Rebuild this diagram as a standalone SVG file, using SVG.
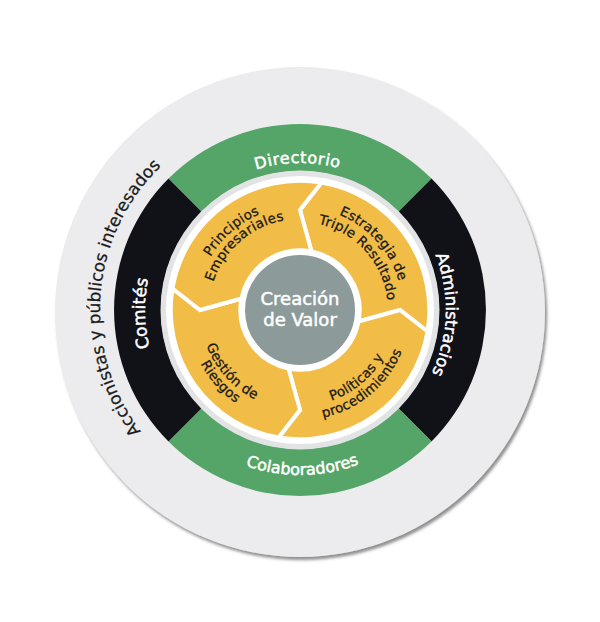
<svg xmlns="http://www.w3.org/2000/svg" width="600" height="622" viewBox="0 0 600 622">
<style>
.t{font-family:"DejaVu Sans","Liberation Sans",sans-serif}
.w{fill:#ffffff;stroke:#ffffff;stroke-width:0.5}
.k{fill:#1a1a1a;stroke:#1a1a1a;stroke-width:0.25}
.seg{fill:#f2bd46;stroke:#ffffff;stroke-width:4;stroke-linejoin:miter}
.grn{fill:#54a567}
.blk{fill:#111118}
.lbl{font-size:13.5px;fill:#1a1a1a;stroke:#1a1a1a;stroke-width:0.3;letter-spacing:0.2px}
</style>
<defs>
<filter id="sh" x="-10%" y="-10%" width="120%" height="120%">
<feDropShadow dx="2" dy="3" stdDeviation="1.5" flood-color="#444" flood-opacity="0.6"/>
</filter>
<path id="pAcc" d="M 300 510 A 200 200 0 0 1 300 110"/>
<path id="pDir" d="M 153 310 A 147 147 0 0 1 447 310"/>
<path id="pCol" d="M 135 310 A 165 165 0 0 0 465 310"/>
<path id="pCom" d="M 300 465 A 155 155 0 0 1 300 155"/>
<path id="pAdm" d="M 300 164 A 146 146 0 0 1 300 456"/>
<path id="pEst1" d="M 261.42 214.5 A 103 103 0 0 1 390.94 358.36"/>
<path id="pEst2" d="M 267.04 228.41 A 88 88 0 0 1 377.70 351.32"/>
<path id="pPri1" d="M 202.91 347.27 A 104 104 0 0 1 350.42 219.04"/>
<path id="pPri2" d="M 215.04 342.61 A 91 91 0 0 1 344.12 230.41"/>
<path id="pGes1" d="M 211.71 263.05 A 100 100 0 0 0 337.46 402.72"/>
<path id="pGes2" d="M 200.23 256.95 A 113 113 0 0 0 342.33 414.77"/>
<path id="pPol1" d="M 252 393.14 A 96 96 0 0 0 390.21 277.17"/>
<path id="pPol2" d="M 245 405.26 A 110 110 0 0 0 403.37 272.38"/>
</defs>

<g id="accionistas">
<circle cx="300" cy="312" r="245" fill="#ececee" filter="url(#sh)"/>
<text class="t k" font-size="17"><textPath href="#pAcc" startOffset="52.4%" text-anchor="middle">Accionistas y públicos interesados</textPath></text>
</g>

<g id="directorio">
<path class="grn" d="M 168.5 178.5 A 186 186 0 0 1 431.5 178.5 L 398.3 211.7 A 139 139 0 0 0 201.7 211.7 Z"/>
<text class="t w" font-size="16" letter-spacing="0.6"><textPath href="#pDir" startOffset="49.5%" text-anchor="middle">Directorio</textPath></text>
</g>
<g id="administracios">
<path class="blk" d="M 431.5 178.5 A 186 186 0 0 1 431.5 441.5 L 398.3 408.3 A 139 139 0 0 0 398.3 211.7 Z"/>
<text class="t w" font-size="16.5"><textPath href="#pAdm" startOffset="51%" text-anchor="middle">Administracios</textPath></text>
</g>
<g id="colaboradores">
<path class="grn" d="M 431.5 441.5 A 186 186 0 0 1 168.5 441.5 L 201.7 408.3 A 139 139 0 0 0 398.3 408.3 Z"/>
<text class="t w" font-size="16"><textPath href="#pCol" startOffset="50.5%" text-anchor="middle">Colaboradores</textPath></text>
</g>
<g id="comites">
<path class="blk" d="M 168.5 441.5 A 186 186 0 0 1 168.5 178.5 L 201.7 211.7 A 139 139 0 0 0 201.7 408.3 Z"/>
<text class="t w" font-size="17"><textPath href="#pCom" startOffset="49.3%" text-anchor="middle">Comités</textPath></text>
</g>

<g id="inner-ring">
<circle cx="300" cy="310" r="139.5" fill="#e2e3e5"/>
<circle cx="300" cy="310" r="134" fill="#ffffff"/>
</g>

<g id="estrategia">
<path class="seg" d="M 311.5 251.5 L 300 210 L 321.5 182.5 A 129.3 129.3 0 0 1 427.5 331.5 L 400 310 L 358.5 321.5 A 59.6 59.6 0 0 0 311.5 251.5 Z"/>
<text class="t lbl"><textPath href="#pEst1" startOffset="50%" text-anchor="middle">Estrategia de</textPath></text>
<text class="t lbl"><textPath href="#pEst2" startOffset="50%" text-anchor="middle">Triple Resultado</textPath></text>
</g>
<g id="politicas">
<path class="seg" d="M 358.5 321.5 L 400 310 L 427.5 331.5 A 129.3 129.3 0 0 1 278.5 437.5 L 300 410 L 288.5 368.5 A 59.6 59.6 0 0 0 358.5 321.5 Z"/>
<text class="t lbl"><textPath href="#pPol1" startOffset="50%" text-anchor="middle">Políticas y</textPath></text>
<text class="t lbl"><textPath href="#pPol2" startOffset="50%" text-anchor="middle">procedimientos</textPath></text>
</g>
<g id="gestion">
<path class="seg" d="M 288.5 368.5 L 300 410 L 278.5 437.5 A 129.3 129.3 0 0 1 172.5 288.5 L 200 310 L 241.5 298.5 A 59.6 59.6 0 0 0 288.5 368.5 Z"/>
<text class="t lbl"><textPath href="#pGes1" startOffset="50%" text-anchor="middle">Gestión de</textPath></text>
<text class="t lbl"><textPath href="#pGes2" startOffset="50%" text-anchor="middle">Riesgos</textPath></text>
</g>
<g id="principios">
<path class="seg" d="M 241.5 298.5 L 200 310 L 172.5 288.5 A 129.3 129.3 0 0 1 321.5 182.5 L 300 210 L 311.5 251.5 A 59.6 59.6 0 0 0 241.5 298.5 Z"/>
<text class="t lbl"><textPath href="#pPri1" startOffset="50%" text-anchor="middle">Principios</textPath></text>
<text class="t lbl"><textPath href="#pPri2" startOffset="50%" text-anchor="middle">Empresariales</textPath></text>
</g>

<g id="creacion">
<circle cx="300" cy="310" r="57" fill="#8c9b9a" stroke="#ffffff" stroke-width="4"/>
<text class="t w" font-size="18" text-anchor="middle"><tspan x="300" y="305">Creación</tspan><tspan x="300" y="326">de Valor</tspan></text>
</g>
</svg>
